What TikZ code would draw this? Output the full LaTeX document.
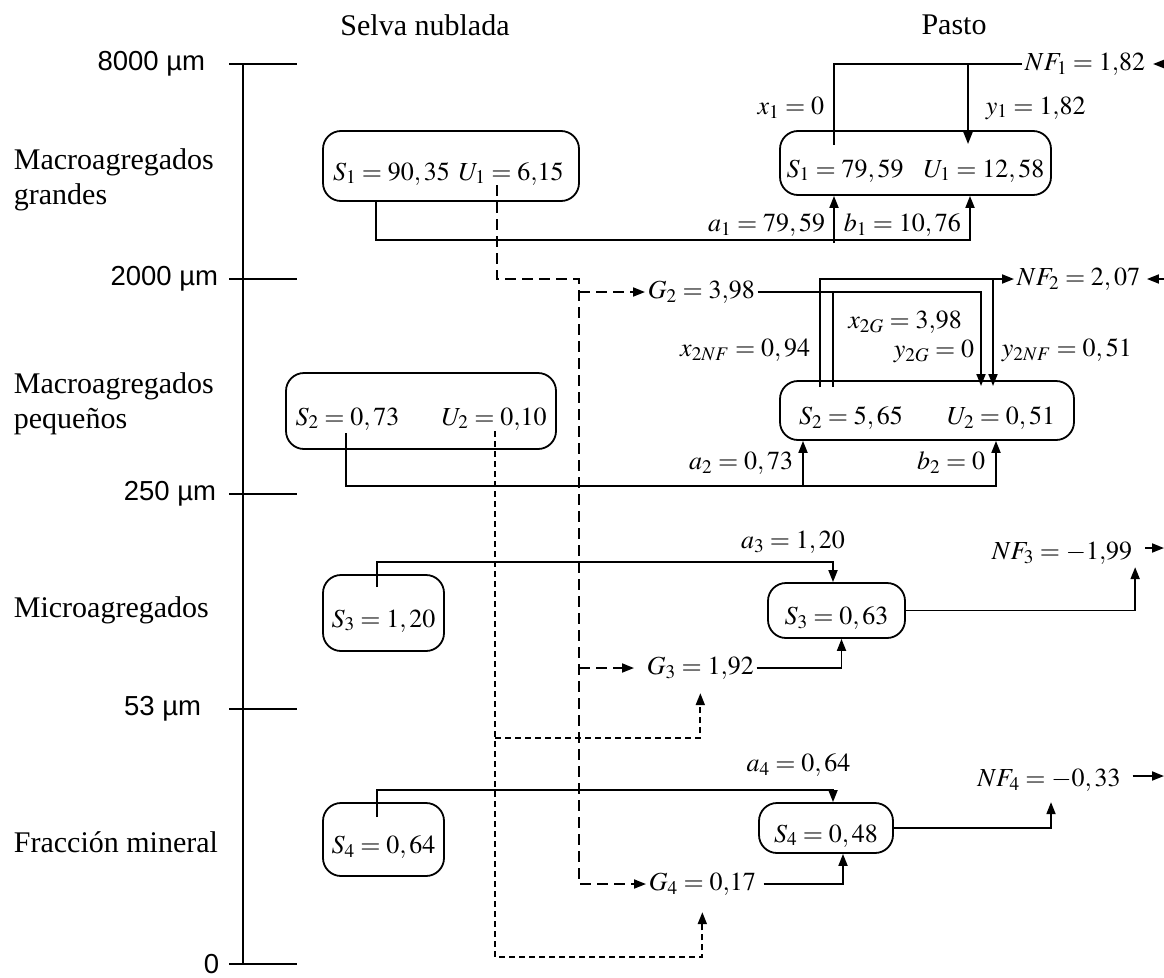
\documentclass[tikz,border=0pt]{standalone}
\usepackage{mathptmx}
\usepackage{fontspec}
\setmainfont{Liberation Serif}
\setsansfont{Liberation Sans}
\usetikzlibrary{arrows.meta,calc}
\thickmuskip=4mu plus 2mu

\begin{document}
\begin{tikzpicture}[x=1pt,y=-1pt,line width=1.8pt,
    >={Triangle[length=12pt,width=9pt]},
    font=\fontsize{30}{35}\selectfont,
    pool/.style={draw,rounded corners=18pt,inner sep=0pt,text height=33pt,text depth=5pt,
      font=\fontsize{26}{31}\selectfont},
    val/.style={inner sep=2pt,font=\fontsize{26}{31}\selectfont},
    sizelbl/.style={anchor=east,inner sep=0pt,font=\sffamily\fontsize{27.5}{33}\selectfont},
    fraclbl/.style={anchor=west,inner sep=0pt,align=left},
    gdash/.style={dash pattern=on 11pt off 6pt},
    fdash/.style={dash pattern=on 6pt off 4pt}]

\useasboundingbox (0,0) rectangle (1164,977);

% headers
\node (selva) at (425,25) {Selva nublada};
\node (pasto) at (954,25) {Pasto};

% size scale
\draw (243,64) -- (243,964);
\foreach \y/\xe/\txt [count=\i] in {64/206/8000 µm,279/219/2000 µm,494/217/250 µm,709/202/53 µm,964/220/0}{
  \draw (229,\y) -- (297,\y);
  \node[sizelbl] (size\i) at (\xe,\y) {\txt};
}

% fractions
\node[fraclbl] (macrog) at (13,180) {Macroagregados\\grandes};
\node[fraclbl] (macrop) at (13,404) {Macroagregados\\pequeños};
\node[fraclbl] (micro) at (13,610) {Microagregados};
\node[fraclbl] (mineral) at (13,842) {Fracción mineral};

% pools
\node[pool,minimum width=256pt,minimum height=70pt,text width=236pt,align=left] (L1) at (451,166) {$S_1 = 90,35\ U_1 = 6{,}15$};
\node[pool,minimum width=271pt,minimum height=64pt] (R1) at (915.5,163) {$S_1 = 79,59\hspace{20pt}U_1 = 12,58$};
\node[pool,minimum width=270pt,minimum height=76pt,text width=251pt] (L2) at (421,411) {$S_2 = 0,73$\hfill$U_2 = 0{,}10$};
\node[pool,minimum width=294pt,minimum height=59pt,text width=256pt] (R2) at (927,410.5) {$S_2 = 5,65$\hfill$U_2 = 0,51$};
\node[pool,minimum width=121pt,minimum height=76pt] (L3) at (383.5,613) {$S_3 = 1,20$};
\node[pool,minimum width=137pt,minimum height=55pt] (R3) at (836.5,610.5) {$S_3 = 0,63$};
\node[pool,minimum width=121pt,minimum height=73pt] (L4) at (383.5,839.5) {$S_4 = 0,64$};
\node[pool,minimum width=134pt,minimum height=50pt] (R4) at (826,828) {$S_4 = 0,48$};

% fluxes
\node[val,anchor=west] (NF1) at (1022,64) {$NF_1 = 1{,}82$};
\node[val,anchor=east] (x1) at (827,108) {$x_1 = 0$};
\node[val,anchor=west] (y1) at (983,108) {$y_1 = 1{,}82$};
\node[val,anchor=east] (a1) at (828,225) {$a_1 = 79,59$};
\node[val,anchor=west] (b1) at (841,225) {$b_1 = 10,76$};
\node[val,anchor=west] (G2) at (645,292) {$G_2 = 3{,}98$};
\node[val,anchor=west] (NF2) at (1014,279) {$NF_2 = 2,07$};
\node[val] (x2G) at (905,322) {$x_{2G} = 3{,}98$};
\node[val,anchor=east] (y2G) at (977,351) {$y_{2G} = 0$};
\node[val,anchor=east] (x2NF) at (813,350) {$x_{2NF} = 0,94$};
\node[val,anchor=west] (y2NF) at (999,350) {$y_{2NF} = 0,51$};
\node[val,anchor=east] (a2) at (796,463) {$a_2 = 0,73$};
\node[val,anchor=east] (b2) at (988,463) {$b_2 = 0$};
\node[val] (a3) at (793,542) {$a_3 = 1,20$};
\node[val] (NF3) at (1062,553) {$NF_3 = -1{,}99$};
\node[val,anchor=west] (G3) at (644,668) {$G_3 = 1{,}92$};
\node[val] (a4) at (798.5,765) {$a_4 = 0,64$};
\node[val] (NF4) at (1049,780) {$NF_4 = -0,33$};
\node[val,anchor=west] (G4) at (646,884) {$G_4 = 0{,}17$};

% macroagregados grandes
\coordinate (x1end) at (834,145);
\coordinate (y1end) at (968,144);
\draw (NF1.west) -| (x1end);
\draw[->] (NF1.west -| y1end) -- (y1end);
\coordinate (nf1in) at (1164,64);
\draw[->,shorten >=5pt] (nf1in) -- (NF1.east);
\coordinate (s1src) at (376,201);
\coordinate (b1foot) at (970,240);
\draw[->] (s1src) |- (b1foot) -- (b1foot |- R1.south);
\coordinate (a1foot) at (834,243);
\draw[->] (a1foot) -- (a1foot |- R1.south);

% paso de U1 (guiones largos)
\coordinate (u1src) at (497,185);
\coordinate (trunk) at (579,279);
\draw[gdash,->] (u1src) |- (trunk) |- (G4.west);
\draw[gdash,->] (trunk |- G2.west) -- (G2.west);
\draw[gdash,->,shorten >=10pt] (trunk |- G3.west) -- (G3.west);

% macroagregados pequenos
\coordinate (y2Gend) at (981,386);
\coordinate (x2Gend) at (833,387);
\coordinate (x2NFend) at (820,387);
\coordinate (y2NFend) at (993,386);
\draw[->] (G2.east) -| (y2Gend);
\draw (G2.east -| x2Gend) -- (x2Gend);
\draw[->] (x2NFend) |- (NF2.west);
\draw[->] (NF2.west -| y2NFend) -- (y2NFend);
\coordinate (nf2in) at (1164,279);
\draw[->,shorten >=4pt] (nf2in) -- (NF2.east);
\coordinate (s2src) at (346,433);
\coordinate (b2foot) at (996,486);
\draw[->] (s2src) |- (b2foot) -- (b2foot |- R2.south);
\coordinate (a2foot) at (803,486);
\draw[->] (a2foot) -- (a2foot |- R2.south);

% paso de U2 (guiones cortos)
\coordinate (u2src) at (495,431);
\coordinate (fdmid) at (495,738);
\coordinate (fdbot) at (495,957);
\draw[fdash,->,shorten >=14pt] (u2src) -- (fdbot) -| (G4.south);
\draw[fdash,->,shorten >=11pt] (fdmid) -| (G3.south);

% microagregados
\coordinate (s3src) at (377,587);
\coordinate (a3top) at (833,562);
\draw[->] (s3src) |- (a3top) -- (a3top |- R3.north);
\draw[->] (R3.east) -| (NF3.south east);
\coordinate (nf3out) at (1164,548);
\draw[->,shorten <=10pt] (NF3.east |- nf3out) -- (nf3out);
\draw[->] (G3.east) -| ([xshift=5pt]R3.south);

% fraccion mineral
\coordinate (s4src) at (377,817);
\coordinate (a4top) at (833,790);
\draw[->] (s4src) |- (a4top) -- (a4top |- R4.north);
\draw[->,shorten >=8pt] (R4.east) -| ([xshift=2pt]NF4.south);
\coordinate (nf4out) at (1164,776);
\draw[->,shorten <=9pt] (NF4.east |- nf4out) -- (nf4out);
\draw[->,shorten <=5pt] (G4.east) -| ([xshift=17pt]R4.south);
\end{tikzpicture}
\end{document}
